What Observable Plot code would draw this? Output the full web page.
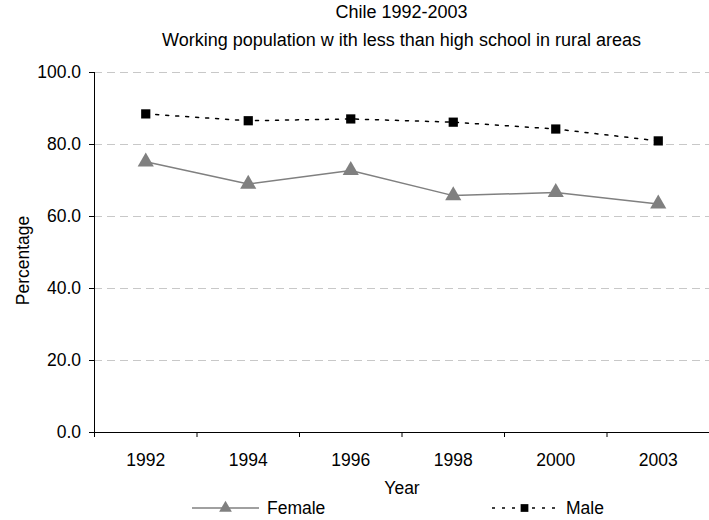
<!DOCTYPE html>
<html>
<head>
<meta charset="utf-8">
<script src="https://cdn.jsdelivr.net/npm/d3@7"></script>
<script src="https://cdn.jsdelivr.net/npm/@observablehq/plot@0.6"></script>
<style>
  html, body { margin: 0; padding: 0; background: #fff; }
  body { width: 709px; height: 520px; overflow: hidden; font-family: "Liberation Sans", Arial, sans-serif; color: #000; }
  #title { height: 56px; text-align: center; font-size: 18px; padding-left: 94px; box-sizing: border-box; }
  #title div { line-height: 28px; position: relative; top: -2px; white-space: nowrap; }
  #chart svg { display: block; }
  #legend { height: 20px; position: relative; font-size: 17.5px; }
  .lg { position: absolute; top: 0; height: 20px; }
</style>
</head>
<body>
<div id="title">
  <div>Chile 1992-2003</div>
  <div>Working population w ith less than high school in rural areas</div>
</div>
<div id="chart"></div>
<div id="legend"></div>
<script>
const years = ["1992", "1994", "1996", "1998", "2000", "2003"];
const female = [75.2, 69.0, 72.8, 65.8, 66.7, 63.5];
const male = [88.5, 86.6, 87.1, 86.2, 84.3, 81.0];
const yTicks = [0, 20, 40, 60, 80, 100];
const seriesNames = ["Female", "Male"];

const femaleData = years.map((y, i) => ({i, year: y, value: female[i]}));
const maleData = years.map((y, i) => ({i, year: y, value: male[i]}));
const idx = years.map((_, i) => i);
const bounds = years.slice(0, -1).map((_, i) => i + 0.5).concat([-0.5]);

const plot = Plot.plot({
  width: 709,
  height: 444,
  marginTop: 16,
  marginBottom: 68,
  marginLeft: 94,
  marginRight: 0,
  style: {fontFamily: "Liberation Sans, Arial, sans-serif", fontSize: "17.5px", color: "#000", background: "#fff"},
  x: {type: "linear", domain: [-0.5, 5.5]},
  y: {domain: [0, 100]},
  marks: [
    Plot.ruleY(yTicks.filter(d => d > 0), {stroke: "#c8c8c8", strokeDasharray: "8,5", strokeWidth: 1}),
    Plot.axisY({ticks: yTicks, tickSize: 5, tickPadding: 8.5, tickFormat: d3.format(".1f"), label: null, stroke: "#000", fontSize: 17.5}),
    Plot.axisX({ticks: bounds, tickSize: 5, tickFormat: () => "", label: null, stroke: "#000"}),
    Plot.axisX({ticks: idx, tickSize: 0, tickPadding: 21, tickFormat: i => years[i], label: null, fontSize: 17.5}),
    Plot.ruleX([-0.5], {stroke: "#000"}),
    Plot.ruleY([0], {stroke: "#000"}),
    Plot.text(["Year"], {frameAnchor: "bottom", lineAnchor: "middle", dy: 56, fontSize: 17.5, fill: "#000"}),
    Plot.text(["Percentage"], {frameAnchor: "left", textAnchor: "middle", lineAnchor: "middle", dx: -71, dy: 8, rotate: -90, fontSize: 17.5, fill: "#000"}),
    Plot.line(femaleData, {x: "i", y: "value", stroke: "#808080", strokeWidth: 1.5}),
    Plot.dot(femaleData, {x: "i", y: "value", symbol: "triangle", r: 6, fill: "#808080", stroke: "none"}),
    Plot.line(maleData, {x: "i", y: "value", stroke: "#000", strokeWidth: 1.5, strokeDasharray: "3,7"}),
    Plot.dot(maleData, {x: "i", y: "value", symbol: "square", r: 5.2, fill: "#000", stroke: "none"})
  ]
});
document.getElementById("chart").appendChild(plot);

// Legend
const legend = d3.select("#legend");
const items = [
  {name: seriesNames[0], x: 192, w: 67, gap: 8, color: "#808080", dash: null, sym: d3.symbolTriangle, size: 70},
  {name: seriesNames[1], x: 492, w: 65, gap: 9, color: "#000", dash: "3,7", sym: d3.symbolSquare, size: 60}
];
items.forEach(it => {
  const g = legend.append("div").attr("class", "lg").style("left", it.x + "px");
  const svg = g.append("svg").attr("width", it.w).attr("height", 20).style("display", "block");
  svg.append("line").attr("x1", 0).attr("x2", it.w).attr("y1", 8).attr("y2", 8)
    .attr("stroke", it.color).attr("stroke-width", 1.5).attr("stroke-dasharray", it.dash);
  svg.append("path").attr("d", d3.symbol(it.sym, it.size)()).attr("transform", `translate(${it.w / 2},8)`).attr("fill", it.color);
  g.append("span").text(it.name).style("position", "absolute").style("left", (it.w + it.gap) + "px").style("top", "0").style("line-height", "17px").style("white-space", "nowrap");
});
</script>
</body>
</html>
